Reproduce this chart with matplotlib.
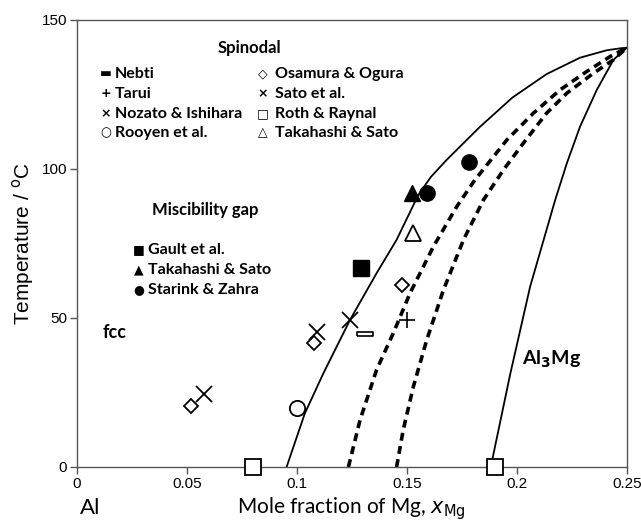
import numpy as np
import matplotlib
matplotlib.use("Agg")
import matplotlib.pyplot as plt

# ---- phase boundary curves ----
gap_x = [0.0954, 0.1037, 0.1121, 0.1242, 0.1363, 0.1454, 0.1553, 0.161, 0.168, 0.183, 0.198, 0.2136, 0.2288, 0.241, 0.2477, 0.250]
gap_T = [0, 18, 31.4, 49.3, 65, 76.2, 91.3, 97.3, 102.9, 113.9, 123.9, 131.8, 137.3, 139.8, 140.5, 140.6]

spin1_x = [0.1235, 0.1288, 0.1363, 0.1439, 0.1515, 0.1621, 0.1727, 0.181, 0.1955, 0.2076, 0.2197, 0.2319, 0.2425, 0.250]
spin1_T = [0, 15.8, 32.6, 44.9, 58.3, 73.9, 87.3, 96.3, 109.7, 118.7, 126.5, 132.7, 137.7, 140.6]

spin2_x = [0.1454, 0.1484, 0.153, 0.1591, 0.1667, 0.1758, 0.1849, 0.194, 0.203, 0.2136, 0.2228, 0.2349, 0.244, 0.250]
spin2_T = [0, 12.4, 26.9, 42.6, 59.4, 76.2, 89.6, 99.7, 108.6, 118.7, 125.4, 132.1, 136.6, 140.6]

al3mg_x = [0.1882, 0.197, 0.2061, 0.2175, 0.2228, 0.2288, 0.2364, 0.244, 0.250]
al3mg_T = [0, 31, 60.5, 89.6, 101.9, 114.2, 126.5, 136.6, 140.6]

# ---- experimental points ----
nebti_x, nebti_T = [0.131], [44.6]
tarui_x, tarui_T = [0.150], [49.3]
nozato_x, nozato_T = [0.058, 0.109], [24.5, 45.4]
sato_x, sato_T = [0.1244], [49.3]
osamura_x, osamura_T = [0.0518, 0.108, 0.148], [20.5, 41.5, 61.0]
rooyen_x, rooyen_T = [0.100], [19.9]
roth_x, roth_T = [0.080, 0.190], [0.0, 0.0]
tak_sp_x, tak_sp_T = [0.153], [78.4]
gault_x, gault_T = [0.1292], [66.7]
tak_mg_x, tak_mg_T = [0.1522], [91.8]
starink_x, starink_T = [0.1591, 0.1785], [92.0, 102.4]

xticks = [0, 0.05, 0.1, 0.15, 0.2, 0.25]
xticklabels = ["0", "0.05", "0.1", "0.15", "0.2", "0.25"]
yticks = [0, 50, 100, 150]

spin_left = [("\u25ac", "Nebti"), ("+", "Tarui"), ("\u00d7", "Nozato & Ishihara"), ("\u25cb", "Rooyen et al.")]
spin_right = [("\u25c7", "Osamura & Ogura"), ("\u00d7", "Sato et al."), ("\u25a1", "Roth & Raynal"),
              ("\u25b3", "Takahashi & Sato")]
gap_labels = [("\u25a0", "Gault et al."), ("\u25b2", "Takahashi & Sato"), ("\u25cf", "Starink & Zahra")]

TXT = ["Lato", "DejaVu Sans"]
NUM = ["Liberation Sans", "DejaVu Sans"]

fig = plt.figure(figsize=(6.41, 5.23), dpi=100)
ax = fig.add_axes([0.1197, 0.1071, 0.858, 0.855])

ax.plot(gap_x, gap_T, color="black", lw=1.3, solid_joinstyle="round")
ax.plot(al3mg_x, al3mg_T, color="black", lw=1.3, solid_joinstyle="round")
ax.plot(spin1_x, spin1_T, color="black", lw=2.6, linestyle=(0, (2.2, 1.5)))
ax.plot(spin2_x, spin2_T, color="black", lw=2.6, linestyle=(0, (2.2, 1.5)))

open_kw = dict(linestyle="none", mfc="white", mec="black", color="black", clip_on=False, zorder=5)
bar = [(-1, -0.3), (1, -0.3), (1, 0.3), (-1, 0.3), (-1, -0.3)]
ax.plot(nebti_x, nebti_T, marker=bar, ms=11, mew=1.2, **open_kw)
ax.plot(tarui_x, tarui_T, marker="+", ms=11, mew=1.2, **open_kw)
ax.plot(nozato_x, nozato_T, marker="x", ms=11, mew=1.3, **open_kw)
ax.plot(sato_x, sato_T, marker="x", ms=11, mew=1.3, **open_kw)
ax.plot(osamura_x, osamura_T, marker="D", ms=7, mew=1.3, **open_kw)
ax.plot(rooyen_x, rooyen_T, marker="o", ms=11, mew=1.3, **open_kw)
ax.plot(roth_x, roth_T, marker="s", ms=12, mew=1.3, **open_kw)
ax.plot(tak_sp_x, tak_sp_T, marker="^", ms=11, mew=1.3, **open_kw)
ax.plot(gault_x, gault_T, marker="s", ms=11, linestyle="none", color="black", zorder=5)
ax.plot(tak_mg_x, tak_mg_T, marker="^", ms=11, linestyle="none", color="black", zorder=5)
ax.plot(starink_x, starink_T, marker="o", ms=11, linestyle="none", color="black", zorder=5)

ax.set_xlim(0, 0.25)
ax.set_ylim(0, 150)
ax.set_xticks(xticks)
ax.set_xticklabels(xticklabels)
ax.set_yticks(yticks)
for lab in ax.get_xticklabels() + ax.get_yticklabels():
    lab.set_family(NUM)
    lab.set_fontsize(11)
ax.tick_params(direction="out", length=5, width=1, color="#555555", pad=2)
for s in ax.spines.values():
    s.set_color("#555555")
    s.set_linewidth(1.0)

ax.set_ylabel("Temperature / $^{\\mathrm{o}}$C", family=NUM, fontsize=15, labelpad=4)
ax.set_xlabel("Mole fraction of Mg, $x_{\\mathrm{Mg}}$", family=TXT, fontsize=15, labelpad=3)
ax.text(0.0015, -13.6, "Al", family=TXT, fontsize=16, ha="left", va="center", clip_on=False)

# legend-like annotations
ax.text(0.0786, 140.6, "Spinodal", family=TXT, fontsize=12, fontweight="bold", ha="center", va="center")
rows_T = [131.9, 125.2, 118.5, 112.1]
for (m, name), t in zip(spin_left, rows_T):
    ax.text(0.0133, t, m, family="DejaVu Sans", fontsize=9, fontweight="bold", ha="center", va="center")
    ax.text(0.0174, t, name, family=TXT, fontsize=11.5, fontweight="bold", ha="left", va="center")
for (m, name), t in zip(spin_right, rows_T):
    ax.text(0.0847, t, m, family="DejaVu Sans", fontsize=9, fontweight="bold", ha="center", va="center")
    ax.text(0.0902, t, name, family=TXT, fontsize=11.5, fontweight="bold", ha="left", va="center")

ax.text(0.0585, 86.2, "Miscibility gap", family=TXT, fontsize=12, fontweight="bold", ha="center", va="center")
gap_rows = [72.8, 66.1, 59.4]
for (m, name), t in zip(gap_labels, gap_rows):
    ax.text(0.0282, t, m, family="DejaVu Sans", fontsize=9, ha="center", va="center")
    ax.text(0.0326, t, name, family=TXT, fontsize=11.5, fontweight="bold", ha="left", va="center")

ax.text(0.0174, 45.0, "fcc", family=TXT, fontsize=13, fontweight="bold", ha="center", va="center")
ax.text(0.2157, 36.2, "Al$_\\mathbf{3}$Mg", family=TXT, fontsize=14, fontweight="bold", ha="center", va="center")

fig.savefig("out.png", dpi=100)
